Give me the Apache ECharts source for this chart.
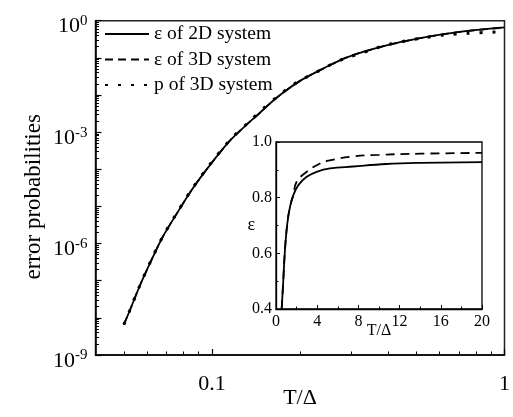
<!DOCTYPE html>
<html>
<head>
<meta charset="utf-8">
<script src="https://cdn.jsdelivr.net/npm/echarts@6/dist/echarts.min.js"></script>
<style>
html,body{margin:0;padding:0;background:#fff;}
#chart{width:513px;height:417px;}
</style>
</head>
<body>
<div id="chart"></div>
<script>
// ---- main plot data (T/Δ, error probability) ----
const mainT      = [0.05, 0.0524, 0.0566, 0.0617, 0.0678, 0.076, 0.0856, 0.0977, 0.115, 0.133, 0.141, 0.166, 0.2, 0.243, 0.291, 0.389, 0.515, 0.703, 1.0];
const eps2DMain  = [6.6e-9, 1.58e-8, 7.1e-8, 3.2e-7, 1.48e-6, 6.6e-6, 2.9e-5, 1.2e-4, 5.8e-4, 1.74e-3, 2.6e-3, 8.3e-3, 0.024, 0.054, 0.105, 0.209, 0.339, 0.50, 0.66];
const eps3DMain  = [6.6e-9, 1.58e-8, 7.1e-8, 3.2e-7, 1.48e-6, 6.6e-6, 2.9e-5, 1.2e-4, 5.8e-4, 1.74e-3, 2.6e-3, 8.3e-3, 0.024, 0.054, 0.105, 0.209, 0.339, 0.50, 0.66];
const pT         = [0.05, 0.0524, 0.0566, 0.0617, 0.0678, 0.076, 0.0856, 0.0977, 0.115, 0.133, 0.151, 0.166, 0.182, 0.2, 0.22, 0.243, 0.266, 0.291, 0.323, 0.354, 0.388, 0.43, 0.477, 0.53, 0.62, 0.75, 0.91, 1.0];
const p3DMain    = [6.6e-9, 1.6e-8, 7.2e-8, 3.3e-7, 1.5e-6, 6.8e-6, 3.0e-5, 1.25e-4, 6.0e-4, 1.8e-3, 4.6e-3, 8.6e-3, 0.0151, 0.0245, 0.036, 0.054, 0.078, 0.102, 0.132, 0.17, 0.214, 0.257, 0.302, 0.347, 0.412, 0.457, 0.49, 0.50];

// ---- inset data (T/Δ, ε) ----
const insetT2D   = [0.55, 0.71, 0.87, 1.1, 1.36, 1.68, 2.17, 2.98, 3.95, 5.24, 7.5, 10.7, 14, 20];
const insetEps2D = [0.40, 0.504, 0.612, 0.708, 0.767, 0.809, 0.845, 0.875, 0.893, 0.905, 0.912, 0.921, 0.925, 0.928];
const insetT3D   = [0.55, 0.71, 0.87, 1.1, 1.36, 1.68, 2.0, 2.98, 4.27, 5.1, 7.2, 10, 14, 20];
const insetEps3D = [0.40, 0.504, 0.612, 0.708, 0.767, 0.809, 0.857, 0.893, 0.923, 0.933, 0.947, 0.954, 0.958, 0.961];

// ---- tick values ----
const yLabelTicks = [1e-9, 1e-6, 1e-3, 1];
const yDecadeTicks = [1e-9, 1e-8, 1e-7, 1e-6, 1e-5, 1e-4, 1e-3, 1e-2, 1e-1, 1];
const yMinorMultipliers = [2, 3, 4, 5, 6, 7, 8, 9];
const xLabelTicks = [0.1, 1];
const xMinorTicks = [0.05, 0.06, 0.07, 0.08, 0.09, 0.2, 0.3, 0.4, 0.5, 0.6, 0.7, 0.8, 0.9];
const legendNames = ['ε of 2D system', 'ε of 3D system', 'p of 3D system'];

const yMinorTicks = [];
yDecadeTicks.slice(0, -1).forEach(d => yMinorMultipliers.forEach(m => yMinorTicks.push(d * m)));

const zip = (a, b) => a.map((v, i) => [v, b[i]]);
const FONT = 'Liberation Serif';
const BLACK = '#000';

const supFmt = v => {
  const e = Math.round(Math.log10(v));
  return '{b|10}{s|' + (e < 0 ? '-' + (-e) : '' + e) + '}';
};

const chart = echarts.init(document.getElementById('chart'), null, {renderer: 'canvas'});
chart.setOption({
  animation: false,
  backgroundColor: '#fff',
  textStyle: {fontFamily: FONT, color: BLACK},
  grid: [
    {left: 95.5, top: 20.7, right: 5, bottom: 62, show: true, borderColor: '#222', borderWidth: 1.5, backgroundColor: 'transparent'},
    {left: 276, top: 142, width: 206, height: 167, show: true, borderColor: BLACK, borderWidth: 1.3, backgroundColor: '#fff'}
  ],
  legend: {
    data: legendNames,
    orient: 'vertical',
    left: 99,
    top: 19,
    padding: 5,
    itemWidth: 44,
    itemHeight: 14,
    itemGap: 5.5,
    itemStyle: {opacity: 0},
    textStyle: {fontFamily: FONT, fontSize: 19.5, color: BLACK}
  },
  xAxis: [
    {
      type: 'log', gridIndex: 0, min: 0.04, max: 1, position: 'bottom',
      axisLine: {show: true, lineStyle: {color: BLACK, width: 1.5}},
      axisTick: {show: true, inside: true, length: 6, customValues: xLabelTicks, lineStyle: {color: BLACK, width: 1.2}},
      axisLabel: {show: true, customValues: xLabelTicks, margin: 18, fontSize: 22, fontFamily: FONT, color: BLACK, formatter: v => (v === 1 ? '1' : '' + v)},
      splitLine: {show: false}, minorTick: {show: false},
      name: 'T/Δ', nameLocation: 'middle', nameGap: 32, nameMoveOverlap: false,
      nameTextStyle: {fontFamily: FONT, fontSize: 22, color: BLACK}
    },
    {
      type: 'log', gridIndex: 0, min: 0.04, max: 1, position: 'bottom',
      axisLine: {show: false},
      axisTick: {show: true, inside: true, length: 3.5, customValues: xMinorTicks, lineStyle: {color: BLACK, width: 1}},
      axisLabel: {show: false}, splitLine: {show: false}
    },
    {
      type: 'value', gridIndex: 1, min: 0, max: 20, interval: 4,
      axisLine: {show: true, lineStyle: {color: BLACK, width: 1.3}},
      axisTick: {show: true, inside: true, length: 4, lineStyle: {color: BLACK, width: 1}},
      minorTick: {show: true, splitNumber: 2, length: 2.5, lineStyle: {color: BLACK, width: 1}},
      axisLabel: {margin: 5, fontSize: 16, fontFamily: FONT, color: BLACK},
      splitLine: {show: false},
      name: 'T/Δ', nameLocation: 'middle', nameGap: 14, nameMoveOverlap: false,
      nameTextStyle: {fontFamily: FONT, fontSize: 16, color: BLACK}
    }
  ],
  yAxis: [
    {
      type: 'log', gridIndex: 0, min: 1e-9, max: 1, position: 'left',
      axisLine: {show: true, lineStyle: {color: BLACK, width: 1.5}},
      axisTick: {show: true, inside: true, length: 6, customValues: yDecadeTicks, lineStyle: {color: BLACK, width: 1.2}},
      axisLabel: {
        show: true, customValues: yLabelTicks, margin: 8, formatter: supFmt, padding: [12, 0, 0, 0],
        rich: {
          b: {fontSize: 22, fontFamily: FONT, color: BLACK, lineHeight: 26},
          s: {fontSize: 15, fontFamily: FONT, color: BLACK, lineHeight: 26, verticalAlign: 'top'}
        }
      },
      splitLine: {show: false}, minorTick: {show: false},
      name: 'error probabilities', nameLocation: 'middle', nameGap: 50, nameMoveOverlap: false,
      nameTextStyle: {fontFamily: FONT, fontSize: 23, color: BLACK, padding: [0, 18, 0, 0]}
    },
    {
      type: 'log', gridIndex: 0, min: 1e-9, max: 1, position: 'left',
      axisLine: {show: false},
      axisTick: {show: true, inside: true, length: 3.5, customValues: yMinorTicks, lineStyle: {color: BLACK, width: 1}},
      axisLabel: {show: false}, splitLine: {show: false}
    },
    {
      type: 'value', gridIndex: 1, min: 0.4, max: 1.0, interval: 0.2,
      axisLine: {show: true, lineStyle: {color: BLACK, width: 1.3}},
      axisTick: {show: true, inside: true, length: 4, lineStyle: {color: BLACK, width: 1}},
      minorTick: {show: true, splitNumber: 2, length: 2.5, lineStyle: {color: BLACK, width: 1}},
      axisLabel: {margin: 4, fontSize: 16, fontFamily: FONT, color: BLACK, formatter: v => v.toFixed(1)},
      splitLine: {show: false},
      name: 'ε', nameLocation: 'middle', nameGap: 21, nameRotate: 0, nameMoveOverlap: false,
      nameTextStyle: {fontFamily: FONT, fontSize: 18, color: BLACK, padding: [0, 0, 8, 0]}
    }
  ],
  series: [
    {
      name: legendNames[0], type: 'line', xAxisIndex: 0, yAxisIndex: 0,
      data: zip(mainT, eps2DMain), showSymbol: false, symbol: 'none', smooth: 0.3,
      lineStyle: {color: BLACK, width: 1.8, type: 'solid'}, itemStyle: {color: BLACK}, z: 3
    },
    {
      name: legendNames[1], type: 'line', xAxisIndex: 0, yAxisIndex: 0,
      data: zip(mainT, eps3DMain), showSymbol: false, symbol: 'none', smooth: 0.3,
      lineStyle: {color: BLACK, width: 1.8, type: [8, 5]}, itemStyle: {color: BLACK}, z: 2
    },
    {
      name: legendNames[2], type: 'line', xAxisIndex: 0, yAxisIndex: 0,
      data: zip(pT, p3DMain), showSymbol: false, symbol: 'none', smooth: 0.3,
      lineStyle: {color: BLACK, width: 3, type: [3, 10]}, itemStyle: {color: BLACK}, z: 4
    },
    {
      name: 'inset 2D', type: 'line', xAxisIndex: 2, yAxisIndex: 2,
      data: zip(insetT2D, insetEps2D), showSymbol: false, symbol: 'none', smooth: 0.4, clip: true,
      lineStyle: {color: BLACK, width: 1.8, type: 'solid'}, z: 6
    },
    {
      name: 'inset 3D', type: 'line', xAxisIndex: 2, yAxisIndex: 2,
      data: zip(insetT3D, insetEps3D), showSymbol: false, symbol: 'none', smooth: 0.4, clip: true,
      lineStyle: {color: BLACK, width: 1.8, type: [9, 6]}, z: 5
    }
  ]
});
</script>
</body>
</html>
